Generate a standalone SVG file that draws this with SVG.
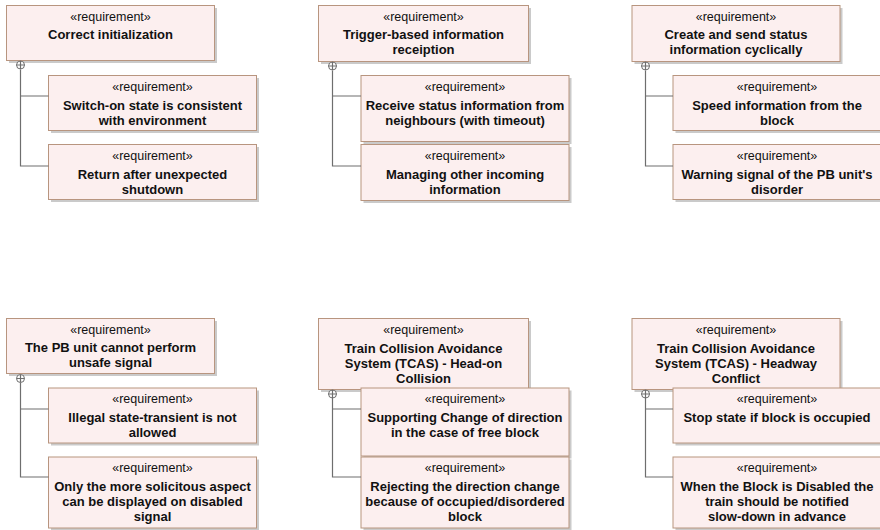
<svg xmlns="http://www.w3.org/2000/svg" width="880" height="530" viewBox="0 0 880 530">
<style>
.box{fill:#fcefef;stroke:#b8957f;stroke-width:1}
.sh{fill:#b4b4b4;opacity:0.7}
.st{font-family:"Liberation Sans",Arial,sans-serif;font-size:12.5px;fill:#111;text-anchor:middle}
.nm{font-family:"Liberation Sans",Arial,sans-serif;font-size:13px;font-weight:bold;fill:#111;text-anchor:middle}
.cn{fill:none;stroke:#6e6e6e;stroke-width:1.2}
.ct{fill:#fff;stroke:#6e6e6e;stroke-width:1}
</style>
<rect width="880" height="530" fill="#fff"/>

<!-- Group 1 -->
<g id="correct-initialization">
<rect class="sh" x="9" y="8" width="208" height="55"/>
<rect class="box" x="6.5" y="5.5" width="208" height="55"/>
<text class="st" x="110.5" y="20.5">«requirement»</text>
<text class="nm" x="110.5" y="39">Correct initialization</text>
</g>
<g id="switch-on-state">
<rect class="sh" x="51" y="78" width="208" height="55"/>
<rect class="box" x="48.5" y="75.5" width="208" height="55"/>
<text class="st" x="152.5" y="90.5">«requirement»</text>
<text class="nm" x="152.5" y="109.5">Switch-on state is consistent</text>
<text class="nm" x="152.5" y="124.5">with environment</text>
</g>
<g id="return-after-shutdown">
<rect class="sh" x="51" y="147" width="208" height="55"/>
<rect class="box" x="48.5" y="144.5" width="208" height="55"/>
<text class="st" x="152.5" y="159.5">«requirement»</text>
<text class="nm" x="152.5" y="178.5">Return after unexpected</text>
<text class="nm" x="152.5" y="193.5">shutdown</text>
</g>

<!-- Group 2 -->
<g id="trigger-based">
<rect class="sh" x="321" y="8" width="210" height="56"/>
<rect class="box" x="318.5" y="5.5" width="210" height="56"/>
<text class="st" x="423.5" y="20.5">«requirement»</text>
<text class="nm" x="423.5" y="39">Trigger-based information</text>
<text class="nm" x="423.5" y="54">receiption</text>
</g>
<g id="receive-status">
<rect class="sh" x="363.5" y="78" width="208" height="66"/>
<rect class="box" x="361" y="75.5" width="208" height="66"/>
<text class="st" x="465" y="90.5">«requirement»</text>
<text class="nm" x="465" y="109.5">Receive status information from</text>
<text class="nm" x="465" y="124.5">neighbours (with timeout)</text>
</g>
<g id="managing-other">
<rect class="sh" x="363.5" y="147" width="208" height="56"/>
<rect class="box" x="361" y="144.5" width="208" height="56"/>
<text class="st" x="465" y="159.5">«requirement»</text>
<text class="nm" x="465" y="178.5">Managing other incoming</text>
<text class="nm" x="465" y="193.5">information</text>
</g>

<!-- Group 3 -->
<g id="create-and-send">
<rect class="sh" x="634.5" y="8" width="208" height="56"/>
<rect class="box" x="632" y="5.5" width="208" height="56"/>
<text class="st" x="736" y="20.5">«requirement»</text>
<text class="nm" x="736" y="39">Create and send status</text>
<text class="nm" x="736" y="54">information cyclically</text>
</g>
<g id="speed-information">
<rect class="sh" x="675.5" y="78" width="208" height="55"/>
<rect class="box" x="673" y="75.5" width="208" height="55"/>
<text class="st" x="777" y="90.5">«requirement»</text>
<text class="nm" x="777" y="109.5">Speed information from the</text>
<text class="nm" x="777" y="124.5">block</text>
</g>
<g id="warning-signal">
<rect class="sh" x="675.5" y="147" width="208" height="55"/>
<rect class="box" x="673" y="144.5" width="208" height="55"/>
<text class="st" x="777" y="159.5">«requirement»</text>
<text class="nm" x="777" y="178.5">Warning signal of the PB unit's</text>
<text class="nm" x="777" y="193.5">disorder</text>
</g>

<!-- Group 4 -->
<g id="pb-unit-unsafe">
<rect class="sh" x="9" y="321" width="208" height="55"/>
<rect class="box" x="6.5" y="318.5" width="208" height="55"/>
<text class="st" x="110.5" y="333.5">«requirement»</text>
<text class="nm" x="110.5" y="352">The PB unit cannot perform</text>
<text class="nm" x="110.5" y="367">unsafe signal</text>
</g>
<g id="illegal-state">
<rect class="sh" x="51" y="390.5" width="208" height="55"/>
<rect class="box" x="48.5" y="388" width="208" height="55"/>
<text class="st" x="152.5" y="403">«requirement»</text>
<text class="nm" x="152.5" y="422">Illegal state-transient is not</text>
<text class="nm" x="152.5" y="437">allowed</text>
</g>
<g id="solicitous-aspect">
<rect class="sh" x="51" y="459.5" width="208" height="71"/>
<rect class="box" x="48.5" y="457" width="208" height="71"/>
<text class="st" x="152.5" y="472">«requirement»</text>
<text class="nm" x="152.5" y="491">Only the more solicitous aspect</text>
<text class="nm" x="152.5" y="506">can be displayed on disabled</text>
<text class="nm" x="152.5" y="521">signal</text>
</g>

<!-- Group 5 -->
<g id="tcas-head-on">
<rect class="sh" x="321" y="321" width="210" height="71"/>
<rect class="box" x="318.5" y="318.5" width="210" height="71"/>
<text class="st" x="423.5" y="333.5">«requirement»</text>
<text class="nm" x="423.5" y="352.5">Train Collision Avoidance</text>
<text class="nm" x="423.5" y="367.5">System (TCAS) - Head-on</text>
<text class="nm" x="423.5" y="382.5">Collision</text>
</g>
<g id="supporting-change">
<rect class="sh" x="363.5" y="390.5" width="208" height="68"/>
<rect class="box" x="361" y="388" width="208" height="68"/>
<text class="st" x="465" y="403">«requirement»</text>
<text class="nm" x="465" y="422">Supporting Change of direction</text>
<text class="nm" x="465" y="437">in the case of free block</text>
</g>
<g id="rejecting-direction">
<rect class="sh" x="363.5" y="459.5" width="208" height="71"/>
<rect class="box" x="361" y="457" width="208" height="71"/>
<text class="st" x="465" y="472">«requirement»</text>
<text class="nm" x="465" y="491">Rejecting the direction change</text>
<text class="nm" x="465" y="506">because of occupied/disordered</text>
<text class="nm" x="465" y="521">block</text>
</g>

<!-- Group 6 -->
<g id="tcas-headway">
<rect class="sh" x="634.5" y="321" width="208" height="71"/>
<rect class="box" x="632" y="318.5" width="208" height="71"/>
<text class="st" x="736" y="333.5">«requirement»</text>
<text class="nm" x="736" y="352.5">Train Collision Avoidance</text>
<text class="nm" x="736" y="367.5">System (TCAS) - Headway</text>
<text class="nm" x="736" y="382.5">Conflict</text>
</g>
<g id="stop-state">
<rect class="sh" x="675.5" y="390.5" width="208" height="55"/>
<rect class="box" x="673" y="388" width="208" height="55"/>
<text class="st" x="777" y="403">«requirement»</text>
<text class="nm" x="777" y="422">Stop state if block is occupied</text>
</g>
<g id="block-disabled">
<rect class="sh" x="675.5" y="459.5" width="208" height="71"/>
<rect class="box" x="673" y="457" width="208" height="71"/>
<text class="st" x="777" y="472">«requirement»</text>
<text class="nm" x="777" y="491">When the Block is Disabled the</text>
<text class="nm" x="777" y="506">train should be notified</text>
<text class="nm" x="777" y="521">slow-down in advance</text>
</g>

<!-- Connectors (containment) -->
<g id="connectors">
<path class="cn" d="M20.5 69.5 V166 H48.5 M20.5 96 H48.5"/>
<circle class="ct" cx="20.5" cy="65" r="4"/><path class="cn" d="M16.5 65 H24.5 M20.5 61 V69"/>
<path class="cn" d="M332.5 70.5 V166 H361 M332.5 96 H361"/>
<circle class="ct" cx="332.5" cy="66" r="4"/><path class="cn" d="M328.5 66 H336.5 M332.5 62 V70"/>
<path class="cn" d="M645.5 70.5 V166 H673 M645.5 96 H673"/>
<circle class="ct" cx="645.5" cy="66" r="4"/><path class="cn" d="M641.5 66 H649.5 M645.5 62 V70"/>
<path class="cn" d="M20.5 382.5 V477 H48.5 M20.5 409 H48.5"/>
<circle class="ct" cx="20.5" cy="378.5" r="4"/><path class="cn" d="M16.5 378.5 H24.5 M20.5 374.5 V382.5"/>
<path class="cn" d="M332.5 398 V477 H361 M332.5 409 H361"/>
<circle class="ct" cx="332.5" cy="394" r="4"/><path class="cn" d="M328.5 394 H336.5 M332.5 390 V398"/>
<path class="cn" d="M645.5 398 V477 H673 M645.5 409 H673"/>
<circle class="ct" cx="645.5" cy="394" r="4"/><path class="cn" d="M641.5 394 H649.5 M645.5 390 V398"/>
</g>
</svg>
